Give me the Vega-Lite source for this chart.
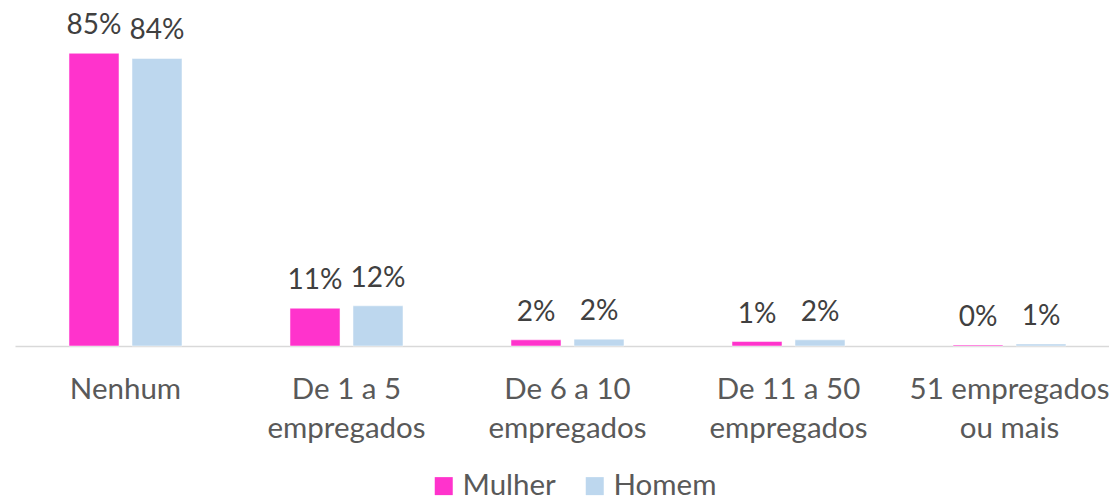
{
  "$schema": "https://vega.github.io/schema/vega-lite/v6.json",
  "width": 1105,
  "height": 346,
  "autosize": {"type": "none"},
  "padding": {"left": 15, "top": 0, "right": 0, "bottom": 156},
  "background": "white",
  "config": {"view": {"stroke": null}, "font": "Lato"},
  "data": {
    "values": [
      {"cat": "Nenhum", "sexo": "Mulher", "v": 0.852},
      {"cat": "Nenhum", "sexo": "Homem", "v": 0.837},
      {"cat": "De 1 a 5|empregados", "sexo": "Mulher", "v": 0.110},
      {"cat": "De 1 a 5|empregados", "sexo": "Homem", "v": 0.117},
      {"cat": "De 6 a 10|empregados", "sexo": "Mulher", "v": 0.018},
      {"cat": "De 6 a 10|empregados", "sexo": "Homem", "v": 0.020},
      {"cat": "De 11 a 50|empregados", "sexo": "Mulher", "v": 0.013},
      {"cat": "De 11 a 50|empregados", "sexo": "Homem", "v": 0.018},
      {"cat": "51 empregados|ou mais", "sexo": "Mulher", "v": 0.003},
      {"cat": "51 empregados|ou mais", "sexo": "Homem", "v": 0.006}
    ]
  },
  "encoding": {
    "x": {
      "field": "cat",
      "type": "nominal",
      "sort": null,
      "scale": {"paddingInner": 0, "paddingOuter": 0},
      "axis": {
        "title": null,
        "labelAngle": 0,
        "ticks": false,
        "domainColor": "#D9D9D9",
        "domainWidth": 1.5,
        "labelExpr": "split(datum.label, '|')",
        "labelFontSize": 29.5,
        "labelColor": "#595959",
        "labelPadding": 29,
        "labelLineHeight": 39,
        "labelLimit": 0,
        "labelOverlap": false,
        "labelFont": "Lato"
      }
    },
    "xOffset": {
      "field": "sexo",
      "type": "nominal",
      "sort": ["Mulher", "Homem"],
      "scale": {"paddingInner": 0.206, "paddingOuter": 0.857}
    },
    "y": {
      "field": "v",
      "type": "quantitative",
      "scale": {"domain": [0, 1.007], "nice": false},
      "axis": null
    }
  },
  "layer": [
    {
      "mark": {"type": "bar", "stroke": "white", "strokeWidth": 0.5},
      "encoding": {
        "color": {
          "field": "sexo",
          "type": "nominal",
          "sort": ["Mulher", "Homem"],
          "scale": {"domain": ["Mulher", "Homem"], "range": ["#FF33CC", "#BDD7EE"]},
          "legend": {
            "title": null,
            "orient": "none",
            "legendX": 414,
            "legendY": 471,
            "direction": "horizontal",
            "symbolType": "square",
            "symbolSize": 324,
            "symbolStrokeWidth": 0,
            "labelFontSize": 29.5,
            "labelColor": "#595959",
            "labelFont": "Lato",
            "columnPadding": 24,
            "labelOffset": 4
          }
        }
      }
    },
    {
      "mark": {"type": "text", "baseline": "alphabetic", "dy": -19, "fontSize": 28, "color": "#404040", "font": "Lato"},
      "encoding": {
        "text": {"field": "v", "type": "quantitative", "format": ".0%"}
      }
    }
  ]
}
